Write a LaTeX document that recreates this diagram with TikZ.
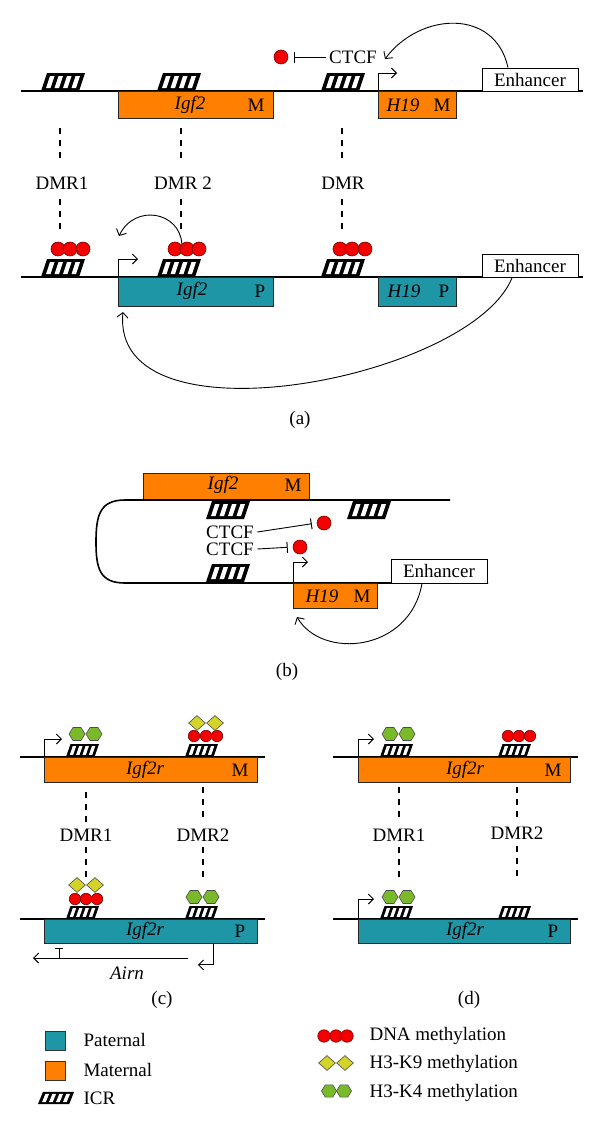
\documentclass[tikz,border=0pt]{standalone}
\usepackage{fontspec}
\setmainfont{Liberation Serif}
\usetikzlibrary{arrows.meta,shapes.geometric,calc}
\definecolor{matorange}{RGB}{255,128,0}
\definecolor{patteal}{RGB}{30,150,165}
\definecolor{methred}{RGB}{245,0,0}
\definecolor{knine}{RGB}{212,212,40}
\definecolor{kfour}{RGB}{122,186,42}
\tikzset{
  dnaline/.style={line width=1.6pt},
  genebox/.style={draw=black!85, line width=0.9pt, inner sep=0pt, anchor=north west},
  enhbox/.style={draw=black, fill=white, line width=0.9pt, minimum width=96pt, minimum height=23pt, inner sep=0pt},
  dmrdash/.style={line width=1.2pt, dash pattern=on 6pt off 6pt},
  prom/.style={line width=0.9pt, -{Straight Barb[length=5pt,width=10pt]}},
  curvearr/.style={line width=0.9pt, -{Straight Barb[length=5pt,width=11pt]}},
  inhib/.style={line width=0.9pt, -{Bar[width=11pt,line width=1pt]}},
  meth/.style={circle, draw=black!55!red, fill=methred, line width=0.6pt, inner sep=0pt, minimum size=#1},
  meth/.default=14pt,
  kn/.style={diamond, draw=black!70, fill=knine, line width=0.6pt, inner sep=0pt, minimum width=17pt, minimum height=15pt},
  hexm/.pic={
    \filldraw[draw=black!70, fill=kfour, line width=0.6pt]
      (8,0) -- (4,-6.5) -- (-4,-6.5) -- (-8,0) -- (-4,6.5) -- (4,6.5) -- cycle;
  },
  icr/.pic={
    \fill[black] (0,0) -- (38,0) -- (44,-18) -- (6,-18) -- cycle;
    \foreach \a in {5,13.5,22,30.5} {
      \fill[white] (\a,-3) -- (\a+4.5,-3) -- (\a+8.5,-15) -- (\a+4,-15) -- cycle;
    }
  }
}
\begin{document}
\begin{tikzpicture}[x=1pt,y=-1pt,font=\fontsize{19}{22}\selectfont]
\fill[white] (0,0) rectangle (600,1130);
\useasboundingbox (0,0) rectangle (600,1130);

% ================= Panel (a), maternal =================
\draw[dnaline] (21,91) -- (583,91);
\pic at (41,91) {icr};
\pic at (157,91) {icr};
\pic at (321,91) {icr};
\node[genebox, fill=matorange, minimum width=155pt, minimum height=27pt] (igfAm) at (118,91) {};
\node (igfAmT) at (190,105) {\itshape Igf2};
\node (igfAmL) at (256,105) {M};
\node[genebox, fill=matorange, minimum width=78pt, minimum height=27pt] (hAm) at (378,91) {};
\node (hAmT) at (403,105) {\itshape H19};
\node (hAmL) at (442,105) {M};
\draw[prom] (hAm.north west) -- ++(0,-18) -- ++(19,0);
\node[enhbox] (enhA1) at (530,79.5) {Enhancer};
\node (ctcfA) at (353,57) {CTCF};
\node[meth] (mA) at (281,57) {};
\draw[inhib, shorten >=6pt] (ctcfA.west) -- (mA.east);
\coordinate (tgtA1) at (385,59);
\draw[curvearr] ($(enhA1.north)+(-22,0)$) .. controls (495,8) and (420,12) .. (tgtA1);

% DMR links
\node (dA1) at (62,183) {DMR1};
\node (dA2) at (183,183) {DMR 2};
\node (dA3) at (343,183) {DMR};
\draw[dmrdash] (60,128) -- (60,161);
\draw[dmrdash] (60,199) -- (60,232);
\draw[dmrdash] (181,128) -- (181,161);
\draw[dmrdash] (181,199) -- (181,232);
\draw[dmrdash] (342,128) -- (342,161);
\draw[dmrdash] (342,199) -- (342,232);

% ================= Panel (a), paternal =================
\draw[dnaline] (21,277) -- (583,277);
\pic at (41,277) {icr};
\pic at (157,277) {icr};
\pic at (321,277) {icr};
\node[meth] (c1a) at (58,249) {};
\node[meth] (c1b) at (70,249) {};
\node[meth] (c1c) at (83,249) {};
\node[meth] (c2a) at (175,249) {};
\node[meth] (c2b) at (187,249) {};
\node[meth] (c2c) at (199,249) {};
\node[meth] (c3a) at (340,249) {};
\node[meth] (c3b) at (352,249) {};
\node[meth] (c3c) at (365,249) {};
\node[genebox, fill=patteal, minimum width=155pt, minimum height=29pt] (igfAp) at (118,277) {};
\node (igfApT) at (192,291) {\itshape Igf2};
\node (igfApL) at (260,291) {P};
\node[genebox, fill=patteal, minimum width=78pt, minimum height=29pt] (hAp) at (378,277) {};
\node (hApT) at (404,291) {\itshape H19};
\node (hApL) at (444,291) {P};
\draw[prom] (igfAp.north west) -- ++(0,-18) -- ++(20,0);
\node[enhbox] (enhA2) at (530,266) {Enhancer};
\coordinate (tgtA2) at (119,236);
\draw[curvearr] (c2b.north west) .. controls (180,212) and (135,203) .. (tgtA2);
\coordinate (tgtA3) at (123,312);
\draw[curvearr] ($(enhA2.south)+(-18,0)$) .. controls (470,380) and (110,448) .. (tgtA3);
\node (capA) at (300,420) {(a)};

% ================= Panel (b) =================
\node[genebox, fill=matorange, minimum width=166pt, minimum height=26pt] (igfB) at (143,473) {};
\node (igfBT) at (223,485) {\itshape Igf2};
\node (igfBL) at (293,485) {M};
\draw[dnaline] (450,500) -- (125,500) .. controls (100,500) and (96,515) .. (96,542)
   .. controls (96,569) and (100,583) .. (125,583) -- (488,583);
\pic at (206,519) {icr};
\pic at (347,519) {icr};
\pic at (206,582) {icr};
\node (ctcfB1) at (230,532) {CTCF};
\node (ctcfB2) at (230,549) {CTCF};
\node[meth] (mB1) at (324,523) {};
\node[meth] (mB2) at (300,547) {};
\draw[inhib, shorten >=5pt] (ctcfB1.east) -- (mB1.west);
\draw[inhib, shorten >=5pt] (ctcfB2.east) -- (mB2.west);
\node[genebox, fill=matorange, minimum width=84pt, minimum height=25pt] (hB) at (293,583) {};
\node (hBT) at (322,596) {\itshape H19};
\node (hBL) at (362,596) {M};
\draw[prom] (hB.north west) -- ++(0,-21) -- ++(15,0);
\node[enhbox, minimum height=24pt] (enhB) at (439,571) {Enhancer};
\coordinate (tgtB) at (297,617);
\draw[curvearr] ($(enhB.south)+(-17,0)$) .. controls (410,652) and (322,660) .. (tgtB);
\node (capB) at (287,672) {(b)};

% ================= Panel (c) =================
\draw[dnaline] (20,757) -- (265,757);
\pic[xscale=0.75,yscale=0.72] at (66,757) {icr};
\pic[xscale=0.75,yscale=0.72] at (185,757) {icr};
\pic at (77,734) {hexm};
\pic at (94,734) {hexm};
\node[meth=11.5pt] (cC1) at (194,736) {};
\node[meth=11.5pt] (cC2) at (206,736) {};
\node[meth=11.5pt] (cC3) at (217,736) {};
\node[kn] (kC1) at (197,723) {};
\node[kn] (kC2) at (215,723) {};
\node[genebox, fill=matorange, minimum width=213pt, minimum height=25pt] (igfCm) at (44,757) {};
\node (igfCmT) at (145,770) {\itshape Igf2r};
\node (igfCmL) at (240,770) {M};
\draw[prom] (igfCm.north west) -- ++(0,-18) -- ++(18,0);
\node (dC1) at (86,835) {DMR1};
\node (dC2) at (203,835) {DMR2};
\draw[dmrdash] (86,792) -- (86,823);
\draw[dmrdash] (86,847) -- (86,878);
\draw[dmrdash] (203,787) -- (203,822);
\draw[dmrdash] (203,847) -- (203,878);

\draw[dnaline] (20,919) -- (265,919);
\pic[xscale=0.75,yscale=0.72] at (66,919) {icr};
\pic[xscale=0.75,yscale=0.72] at (185,919) {icr};
\node[meth=11.5pt] (cC4) at (75,899) {};
\node[meth=11.5pt] (cC5) at (86,899) {};
\node[meth=11.5pt] (cC6) at (97,899) {};
\node[kn] (kC3) at (77,885) {};
\node[kn] (kC4) at (95,885) {};
\pic at (194,897) {hexm};
\pic at (211,897) {hexm};
\node[genebox, fill=patteal, minimum width=213pt, minimum height=24pt] (igfCp) at (44,919) {};
\node (igfCpT) at (145,931) {\itshape Igf2r};
\node (igfCpL) at (240,931) {P};
\draw[prom] ($(igfCp.south west)+(169,0)$) -- ++(0,21) -- ++(-15,0);
\coordinate (airnEnd) at (33,958);
\draw[prom] (188,958) -- (airnEnd);
\draw[line width=0.9pt] (59,958) -- (59,948);
\draw[line width=0.9pt] (55,948) -- (63,948);
\node (airn) at (127,973) {\itshape Airn};
\node (capC) at (162,1000) {(c)};

% ================= Panel (d) =================
\draw[dnaline] (333,757) -- (578,757);
\pic[xscale=0.75,yscale=0.72] at (380,757) {icr};
\pic[xscale=0.75,yscale=0.72] at (498,757) {icr};
\pic at (390,734) {hexm};
\pic at (407,734) {hexm};
\node[meth=11.5pt] (cD1) at (508,736) {};
\node[meth=11.5pt] (cD2) at (519,736) {};
\node[meth=11.5pt] (cD3) at (530,736) {};
\node[genebox, fill=matorange, minimum width=212pt, minimum height=25pt] (igfDm) at (358,757) {};
\node (igfDmT) at (465,770) {\itshape Igf2r};
\node (igfDmL) at (553,770) {M};
\draw[prom] (igfDm.north west) -- ++(0,-18) -- ++(16,0);
\node (dD1) at (399,835) {DMR1};
\node (dD2) at (517,833) {DMR2};
\draw[dmrdash] (399,787) -- (399,822);
\draw[dmrdash] (399,847) -- (399,878);
\draw[dmrdash] (517,787) -- (517,820);
\draw[dmrdash] (517,846) -- (517,878);

\draw[dnaline] (333,919) -- (578,919);
\pic[xscale=0.75,yscale=0.72] at (380,919) {icr};
\pic[xscale=0.75,yscale=0.72] at (498,919) {icr};
\pic at (390,897) {hexm};
\pic at (407,897) {hexm};
\node[genebox, fill=patteal, minimum width=212pt, minimum height=24pt] (igfDp) at (358,919) {};
\node (igfDpT) at (465,931) {\itshape Igf2r};
\node (igfDpL) at (553,931) {P};
\draw[prom] (igfDp.north west) -- ++(0,-20) -- ++(16,0);
\node (capD) at (469,1000) {(d)};

% ================= Legend =================
\node[draw=black!80, fill=patteal, line width=0.9pt, minimum width=20pt, minimum height=19pt, inner sep=0pt] (legP) at (55.5,1040.5) {};
\node[anchor=west] (legPT) at (80,1040) {Paternal};
\node[draw=black!80, fill=matorange, line width=0.9pt, minimum width=20pt, minimum height=19pt, inner sep=0pt] (legM) at (55.5,1070.5) {};
\node[anchor=west] (legMT) at (80,1070) {Maternal};
\pic[xscale=0.82,yscale=0.67] at (38,1104) {icr};
\node[anchor=west] (legIT) at (80,1098) {ICR};

\node[meth=12.5pt] (lc1) at (324,1036) {};
\node[meth=12.5pt] (lc2) at (336,1036) {};
\node[meth=12.5pt] (lc3) at (347,1036) {};
\node[anchor=west] (lcT) at (366,1036) {DNA methylation};
\node[kn] (lk1) at (327,1063) {};
\node[kn] (lk2) at (345,1063) {};
\node[anchor=west] (lkT) at (366,1064) {H3-K9 methylation};
\pic[scale=0.94] at (329,1091) {hexm};
\pic[scale=0.94] at (344,1091) {hexm};
\node[anchor=west] (lhT) at (366,1093) {H3-K4 methylation};
\end{tikzpicture}
\end{document}
